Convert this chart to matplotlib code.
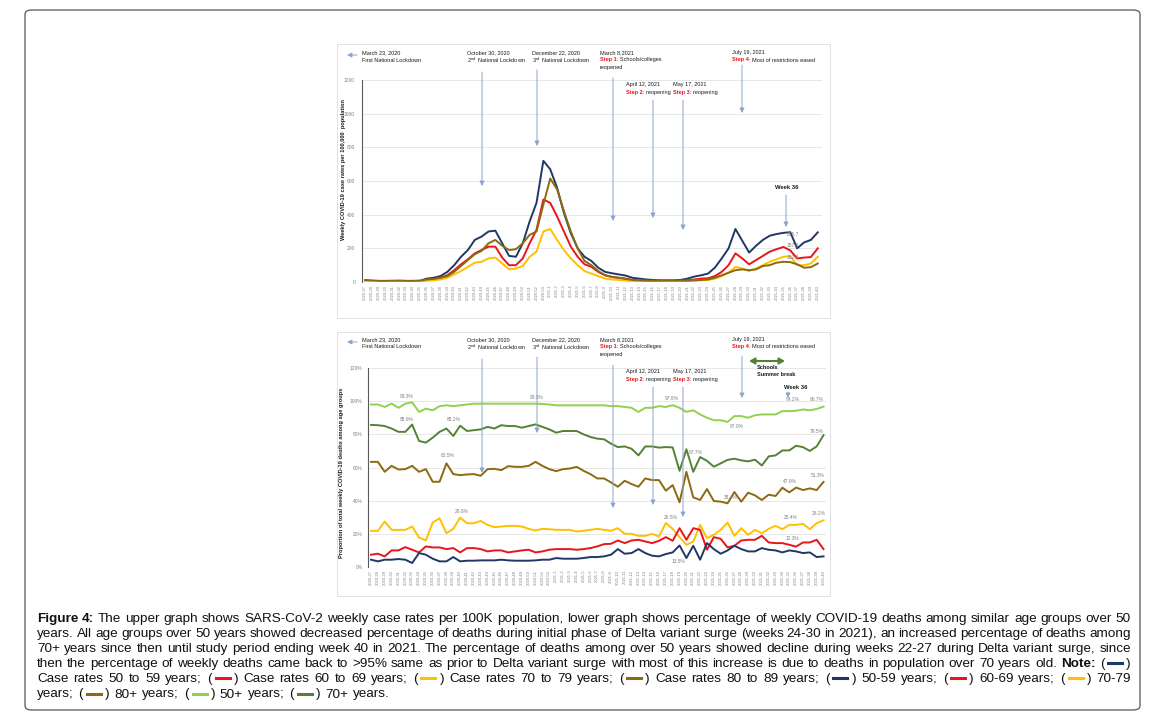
import matplotlib.pyplot as plt
from matplotlib.lines import Line2D
from matplotlib.patches import FancyBboxPatch, Rectangle

plt.rcParams['font.family'] = ['Liberation Sans', 'DejaVu Sans']
plt.rcParams['mathtext.fontset'] = 'custom'
plt.rcParams['mathtext.rm'] = 'Liberation Sans'
plt.rcParams['mathtext.bf'] = 'Liberation Sans:bold'

# weeks 2020-27 .. 2021-40
weeks = ['2020-%d' % w for w in range(27, 54)] + ['2021-%d' % w for w in range(1, 41)]

# upper graph: weekly case rates per 100,000
case_50_59 = [8, 6, 5, 5, 6, 7, 6, 6, 7, 20,
              25, 35, 60, 100, 150, 190, 250, 270, 300, 305,
              230, 155, 150, 230, 360, 470, 720, 670, 560, 410,
              290, 200, 150, 125, 85, 60, 52, 45, 38, 25,
              20, 15, 12, 10, 10, 10, 12, 20, 32, 40,
              50, 85, 140, 200, 315, 245, 175, 215, 250, 275,
              285, 292, 295.7, 200, 235, 250, 295]
case_60_69 = [6, 5, 4, 4, 5, 5, 5, 5, 5, 12,
              15, 25, 40, 70, 105, 135, 170, 190, 210, 210,
              145, 100, 100, 140, 230, 310, 490, 470, 390, 300,
              210, 150, 105, 90, 60, 40, 30, 25, 20, 12,
              10, 8, 6, 6, 6, 6, 8, 10, 15, 20,
              22, 35, 60, 100, 170, 140, 105, 130, 155, 180,
              195, 208, 187.6, 140, 145, 148, 200]
case_70_79 = [3, 3, 2, 2, 3, 3, 3, 3, 3, 8,
              10, 15, 25, 45, 65, 90, 115, 120, 140, 145,
              110, 75, 80, 95, 150, 180, 300, 315, 250, 190,
              140, 100, 65, 50, 35, 20, 15, 12, 8, 6,
              5, 4, 4, 4, 4, 4, 5, 6, 8, 10,
              12, 20, 35, 55, 90, 80, 65, 80, 100, 120,
              135, 150, 152.4, 100, 100, 110, 150]
case_80_89 = [12, 10, 7, 7, 8, 8, 7, 7, 8, 15,
              18, 25, 35, 60, 95, 130, 165, 185, 230, 250,
              215, 190, 195, 230, 280, 300, 460, 615, 550, 420,
              300, 200, 125, 100, 65, 40, 30, 25, 18, 12,
              10, 8, 8, 8, 8, 8, 8, 8, 10, 12,
              15, 25, 40, 55, 70, 75, 70, 75, 95, 100,
              115, 120, 118, 105, 85, 88, 110]

# lower graph: % of weekly COVID-19 deaths
death_50_59 = [4.4, 3.4, 4.4, 4.4, 4.8, 4.4, 2.4, 8.4, 7.4, 5,
               3.4, 3.4, 6, 3.4, 3.8, 3.8, 4, 4, 4, 4.4,
               4, 3.8, 3.8, 3.8, 4, 4.4, 4.4, 5.4, 5, 5,
               5, 5.4, 6, 6, 6.4, 7.4, 10.8, 8, 8.4, 10.8,
               8.4, 6.8, 6.4, 7.8, 8.8, 13, 5.4, 12.8, 4.4, 14.4,
               10.8, 8, 10, 12.8, 10.8, 9.4, 9.4, 11.4, 10.4, 10,
               8.8, 10, 9.4, 8.4, 8.8, 6, 6.4]
death_60_69 = [7.4, 8, 6.4, 10, 10, 12, 10.4, 8.8, 12.4, 11.8,
               11.8, 10.8, 11.4, 8.8, 11.4, 11.4, 10.8, 9.4, 10, 10,
               8.8, 9.4, 10, 10.4, 8.8, 9.4, 10.4, 10.8, 10.8, 10.8,
               10.4, 10.8, 11.4, 12.4, 13.8, 14, 16, 14.4, 16, 16.4,
               15.4, 14.4, 15.8, 18, 15.8, 23.4, 16.4, 23.4, 22.4, 10.4,
               18, 17, 11.8, 12.8, 16, 16.4, 16.4, 18.8, 14.8, 14.4,
               14.4, 13.4, 12.3, 14.8, 14.8, 16.4, 10.8]
death_70_79 = [21.8, 21.8, 27.4, 22.4, 22.4, 22.4, 24.4, 17.8, 16, 26.8,
               29.4, 20.4, 23, 29.8, 26.4, 26.4, 27.8, 25.4, 24, 24.4,
               24.8, 24.8, 24.4, 23, 22, 23, 22.8, 22.4, 22.4, 22.4,
               21.4, 21.8, 22.4, 23, 22.4, 21.8, 23.4, 20, 20, 18.8,
               18.8, 20, 18.4, 26.5, 23, 18, 13.4, 15.4, 25.4, 17.4,
               19.4, 22.4, 26.8, 18.8, 23.4, 19.4, 22.4, 20.4, 23, 24.8,
               22.8, 25.4, 25.4, 26, 22.8, 26.4, 28.2]
death_80 = [63.4, 63.4, 57.4, 61, 58.8, 59, 61, 57.4, 59, 51.4,
            51.4, 62.5, 56, 55.4, 55.8, 56, 55, 59, 59.2, 58.4,
            60.8, 60.4, 60.4, 61, 63.4, 61, 59, 57.8, 59, 59.4,
            60.4, 58, 56, 53.4, 53.4, 51, 48.4, 52, 50, 48.4,
            53.4, 52.4, 52.4, 46, 49.4, 39, 57.4, 42, 40.4, 47,
            39.8, 39.4, 38.4, 45.2, 39.4, 44.8, 43.2, 40.4, 43.6, 42.8,
            47.8, 45, 47.9, 46.4, 47.4, 46.4, 51.3]
death_50p = [98, 98, 96.5, 98.5, 96, 98.5, 99.3, 93.5, 95.5, 94.5,
             97, 97.5, 97, 97.5, 98, 98.5, 98.5, 98.5, 98.5, 98.5,
             98.5, 98.5, 98.5, 98.5, 98.5, 98.3, 98, 97.5, 97.5, 97.5,
             97.5, 97.5, 97.5, 97.5, 97.5, 97, 97, 96.5, 96, 93.5,
             96, 96, 97, 96.5, 97.6, 96, 93.5, 94.5, 92, 90,
             88.5, 88.5, 87.5, 91, 91, 90, 91.5, 92, 92, 92,
             94, 94, 94.2, 95, 94.5, 95.3, 96.7]
death_70p = [85.7, 85.5, 85, 83.5, 81.5, 81.5, 85.9, 76, 75, 78,
             81.5, 83.5, 79, 85.2, 82, 82.5, 83, 84.5, 83.5, 85.5,
             85, 85, 84, 85, 86, 84.5, 83, 81, 82, 82,
             82, 80, 78.4, 77.4, 77, 74.4, 72.3, 72.7, 71.3, 67.3,
             72.7, 72.7, 72, 72.3, 72.1, 58, 71, 57.4, 66.3, 64,
             60.5, 62.5, 64.6, 65.3, 64.3, 63.7, 64.7, 61.2, 66.7, 67.3,
             70.3, 70.3, 73.1, 72.3, 70, 72.7, 79.5]

NAVY = '#203864'
RED = '#E8151B'
YELLOW = '#FFC000'
BROWN = '#8B6A10'
LGREEN = '#92D050'
DGREEN = '#548235'
INK = '#1a1a1a'
GREY = '#808080'
ARR = '#8AA6CC'

W, H = 1154, 720
fig = plt.figure(figsize=(W / 100, H / 100), dpi=100)
fig.patch.set_facecolor('white')
rend = fig.canvas.get_renderer()


def fx(x):
    return x / W


def fy(y):
    return 1 - y / H


def put(x, y, s, size=4, color=INK, weight='normal', **kw):
    kw.setdefault('va', 'center_baseline')
    return fig.text(fx(x), fy(y), s, fontsize=size, color=color, fontweight=weight, **kw)


def runs(x, y, parts, size=4):
    for s, c, w in parts:
        t = put(x, y, s, size, c, w)
        x += t.get_window_extent(rend).width


def arrow(ax, x, y0, y1, x1=None, color=ARR, style='-|>,head_length=0.7,head_width=0.35',
          lw=0.7, scale=4):
    x1 = x if x1 is None else x1
    ax.annotate('', xy=(x1, H - y1), xytext=(x, H - y0), xycoords='figure pixels',
                textcoords='figure pixels', annotation_clip=False,
                arrowprops=dict(arrowstyle=style, color=color, lw=lw, shrinkA=0, shrinkB=0,
                                mutation_scale=scale))


# light borders of the two chart pictures
for y0, y1 in [(44, 318), (332, 596)]:
    fig.add_artist(Rectangle((fx(337), fy(y1)), (830 - 337) / W, (y1 - y0) / H,
                             transform=fig.transFigure, fill=False, ec='#dddddd', lw=0.6))

x = list(range(len(weeks)))


def style_axes(ax, yticks, ylabels, pad):
    ax.set_facecolor('none')
    for s in ['top', 'right', 'bottom']:
        ax.spines[s].set_visible(False)
    ax.spines['left'].set_color('#595959')
    ax.spines['left'].set_linewidth(0.8)
    ax.set_yticks(yticks)
    ax.set_yticklabels(ylabels)
    ax.grid(axis='y', color='#e3e3e3', lw=0.6)
    ax.set_axisbelow(True)
    ax.set_xticks(x)
    ax.set_xticklabels(weeks, rotation=90)
    ax.tick_params(axis='x', length=0, labelsize=3, labelcolor=GREY, pad=2)
    ax.tick_params(axis='y', length=0, labelsize=3.5, labelcolor=GREY, pad=pad)


# upper graph
ax1 = fig.add_axes([fx(362), fy(282), (822 - 362) / W, (282 - 80) / H])
ax1.set_xlim(-0.44, 66.62)
ax1.set_ylim(0, 1200)
style_axes(ax1, range(0, 1201, 200), [str(v) for v in range(0, 1201, 200)], 5)
for vals, col in [(case_50_59, NAVY), (case_60_69, RED), (case_70_79, YELLOW), (case_80_89, BROWN)]:
    ax1.plot(x, vals, color=col, lw=1.4)
put(343, 170, 'Weekly COVID-19 case rates per 100,000  population', 4.1, INK, 'bold',
    rotation=90, ha='center', va='center')

# lower graph
ax2 = fig.add_axes([fx(368), fy(567), (826 - 368) / W, (567 - 368) / H])
ax2.set_xlim(-0.44, 66.36)
ax2.set_ylim(0, 120)
style_axes(ax2, range(0, 121, 20), ['%d%%' % v for v in range(0, 121, 20)], 4)
for vals, col in [(death_50p, LGREEN), (death_70p, DGREEN), (death_80, BROWN),
                  (death_70_79, YELLOW), (death_60_69, RED), (death_50_59, NAVY)]:
    ax2.plot(x, vals, color=col, lw=1.4)
put(342, 473, 'Proportion of total weekly COVID-19 deaths among age groups', 4.1, INK, 'bold',
    rotation=90, ha='center', va='center')

# event notes, same on both graphs
for ax, dy in [(ax1, 0), (ax2, 287)]:
    runs(362, 52 + dy, [('March 23, 2020', INK, 'normal')])
    runs(362, 59.5 + dy, [('First National Lockdown', INK, 'normal')])
    arrow(ax, 357, 55 + dy, 55 + dy, x1=347)
    runs(467, 52 + dy, [('October 30, 2020', INK, 'normal')])
    runs(467, 59.5 + dy, [(r'2$^{\mathrm{nd}}$  National Lockdown', INK, 'normal')])
    runs(532, 52 + dy, [('December 22, 2020', INK, 'normal')])
    runs(532, 59.5 + dy, [(r'3$^{\mathrm{rd}}$  National Lockdown', INK, 'normal')])
    runs(600, 52 + dy, [('March 8,2021', INK, 'normal')])
    runs(600, 59.5 + dy, [('Step 1', RED, 'bold'), (': Schools/colleges', INK, 'normal')])
    runs(600, 67 + dy, [('reopened', INK, 'normal')])
    runs(626, 84 + dy, [('April 12, 2021', INK, 'normal')])
    runs(626, 92 + dy, [('Step 2', RED, 'bold'), (': reopening', INK, 'normal')])
    runs(673, 84 + dy, [('May 17, 2021', INK, 'normal')])
    runs(673, 92 + dy, [('Step 3', RED, 'bold'), (': reopening', INK, 'normal')])
    runs(732, 52 + dy, [('July 19, 2021', INK, 'normal')])
    runs(732, 59.5 + dy, [('Step 4', RED, 'bold'), (': Most of restrictions eased', INK, 'normal')])
    arrow(ax, 482, 72 + dy, 186 + dy)
    arrow(ax, 537, 70 + dy, 146 + dy)
    arrow(ax, 613, 78 + dy, 221 + dy)
    arrow(ax, 653, 100 + dy, 218 + dy)
    arrow(ax, 683, 100 + dy, 230 + dy)

arrow(ax1, 742, 65, 113)
arrow(ax2, 742, 356, 398)

# week 36 notes
put(787, 187, 'Week 36', 4.2, INK, 'bold', ha='center')
arrow(ax1, 786, 195, 227)
put(787, 234, '295.7', 3.5, GREY)
put(787, 245, '187.6', 3.5, GREY)
put(787, 257, '152.4', 3.5, GREY)

put(796, 387, 'Week 36', 4.2, INK, 'bold', ha='center')
arrow(ax2, 788, 392, 398)

# summer break
arrow(ax2, 749, 361, 361, x1=785, color=DGREEN,
      style='<|-|>,head_length=0.8,head_width=0.45', lw=1.5, scale=4)
put(757, 367, 'Schools', 4, INK, 'bold')
put(757, 374.5, 'Summer break', 4, INK, 'bold')

# value labels on lower graph
for lx, ly, s in [(407, 396, '99.3%'), (537, 397, '98.3%'), (672, 398, '97.6%'),
                  (737, 426, '87.0%'), (793, 399, '94.2%'), (817, 399, '96.7%'),
                  (407, 419, '85.9%'), (454, 419, '85.2%'), (696, 452, '67.7%'),
                  (817, 431, '79.5%'), (448, 455, '62.5%'), (731, 497, '38.4%'),
                  (790, 481, '47.9%'), (818, 475, '51.3%'), (462, 511, '29.8%'),
                  (671, 517, '26.5%'), (791, 517, '25.4%'), (819, 513, '28.2%'),
                  (792, 538, '12.3%'), (678, 561, '13.5%')]:
    put(lx, ly, s, 3.5, GREY, ha='center')

# caption, justified
caption = [
    "**Figure** **4:** The upper graph shows SARS-CoV-2 weekly case rates per 100K population, lower graph shows percentage of weekly COVID-19 deaths among similar age groups over 50",
    "years. All age groups over 50 years showed decreased percentage of deaths during initial phase of Delta variant surge (weeks 24-30 in 2021), an increased percentage of deaths among",
    "70+ years since then until study period ending week 40 in 2021. The percentage of deaths among over 50 years showed decline during weeks 22-27 during Delta variant surge, since",
    "then the percentage of weekly deaths came back to >95% same as prior to Delta variant surge with most of this increase is due to deaths in population over 70 years old. **Note:** [navy]",
    "Case rates 50 to 59 years; [red] Case rates 60 to 69 years; [yellow] Case rates 70 to 79 years; [brown] Case rates 80 to 89 years; [navy] 50-59 years; [red] 60-69 years; [yellow] 70-79",
    "years; [brown] 80+ years; [lgreen] 50+ years; [dgreen] 70+ years.",
]
swatch = {'navy': NAVY, 'red': RED, 'yellow': YELLOW, 'brown': BROWN,
          'lgreen': LGREEN, 'dgreen': DGREEN}
CAP = 9.7
CAP_INK = '#111111'
DASH = 14


def token(word):
    if word.startswith('['):
        parts = [('(', CAP_INK, 'normal', 4), (None, swatch[word[1:-1]], None, 4),
                 (')', CAP_INK, 'normal', 0)]
    elif word.startswith('**'):
        parts = [(word.strip('*'), CAP_INK, 'bold', 0)]
    else:
        parts = [(word, CAP_INK, 'normal', 0)]
    out = []
    for s, c, w, pad in parts:
        if s is None:
            ln = Line2D([0, 0], [0, 0], color=c, lw=2.2, transform=fig.transFigure)
            fig.add_artist(ln)
            out.append((ln, DASH, pad))
        else:
            t = fig.text(0, 0, s, fontsize=CAP, color=c, fontweight=w, va='baseline')
            out.append((t, t.get_window_extent(rend).width, pad))
    return out


probe = fig.text(0, 0, 'a a', fontsize=CAP)
space = probe.get_window_extent(rend).width
probe.set_text('aa')
space -= probe.get_window_extent(rend).width
probe.remove()

left, right = 37, 1131
for k, line in enumerate(caption):
    toks = [token(w) for w in line.split()]
    total = sum(w + p for tok in toks for _, w, p in tok)
    if k < len(caption) - 1:
        gap = (right - left - total) / (len(toks) - 1)
    else:
        gap = space + 1
    base = 622 + k * 15.1
    xx = left
    for tok in toks:
        for a, w, p in tok:
            if isinstance(a, Line2D):
                a.set_data([fx(xx), fx(xx + w)], [fy(base - 4), fy(base - 4)])
            else:
                a.set_position((fx(xx), fy(base)))
            xx += w + p
        xx += gap

# outer frame
fig.add_artist(FancyBboxPatch((fx(25), fy(710)), (1140 - 25) / W, (710 - 10) / H,
                              boxstyle='round,pad=0,rounding_size=0.006',
                              transform=fig.transFigure, fill=False, ec='#555555', lw=0.9))

fig.savefig('out.png', dpi=100)
